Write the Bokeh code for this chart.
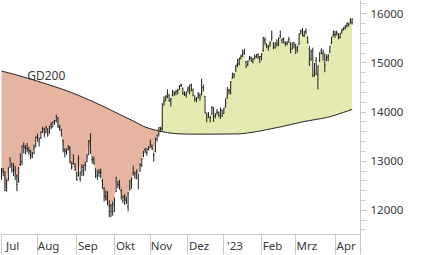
import numpy as np
from bokeh.plotting import figure
from bokeh.models import Range1d, FixedTicker, Label
from bokeh.embed import file_html
from bokeh.resources import INLINE

# ---------------- data (DAX, daily, Jul 2022 - Apr 2023) ----------------
month_labels = ["Jul", "Aug", "Sep", "Okt", "Nov", "Dez", "'23", "Feb", "Mrz", "Apr"]
month_start = [0, 21, 44, 66, 87, 109, 130, 152, 172, 195]   # bar index of first trading day

open_ = [
    # Jul
    12690,12800,12780,12460,12640,12900,12950,12800,12820,12700,12580,12930,12990,13330,13270,13250,13230,13200,13110,13250,13320,
    # Aug
    13500,13400,13480,13600,13640,13600,13650,13590,13740,13700,13790,13830,13880,13680,13640,13420,13220,13190,13250,13270,12880,12940,12900,
    # Sep
    12760,12700,12650,12800,12800,12940,12990,13140,13420,13030,13040,12840,12700,12770,12780,12600,12440,12270,12280,12090,12090,11990,
    # Okt
    12130,12380,12530,12560,12410,12200,12260,12200,12070,12500,12450,12760,12740,12700,12660,12820,12910,13100,13240,13170,13240,
    # Nov
    13280,13300,13130,13200,13450,13560,13640,13660,14200,14230,14330,14330,14230,14340,14400,14390,14430,14460,14550,14480,14390,14350,
    # Dez
    14450,14440,14560,14440,14290,14260,14300,14340,14350,14500,14310,13940,13940,13870,13960,14060,13930,14000,13980,13880,14030,
    # Jan
    13970,14120,14300,14450,14410,14690,14740,14840,14970,14980,15100,15150,15230,15020,14960,15090,15100,15040,15100,15120,15170,15080,
    # Feb
    15130,15250,15450,15350,15330,15380,15470,15400,15320,15420,15370,15560,15460,15480,15410,15390,15430,15400,15280,15410,
    # Mrz
    15300,15260,15380,15600,15650,15550,15660,15520,15280,15080,15250,14770,15050,14750,15050,15250,15180,15170,15070,15110,15210,15400,15550,
    # Apr
    15580,15620,15570,15510,15610,15680,15720,15760,15780,15850,15820,
]
high = [
    12860,12860,12790,12640,12880,13080,12970,12960,12900,12730,12880,13160,13320,13380,13330,13370,13290,13230,13190,13340,13500,
    13560,13480,13610,13700,13680,13720,13670,13720,13790,13810,13840,13950,13900,13740,13660,13440,13260,13260,13330,13310,12990,13140,12960,
    12780,13120,12790,12940,12920,12990,13150,13430,13570,13100,13090,12850,12810,12840,12850,12640,12470,12400,12390,12200,12130,12180,
    12260,12680,12600,12620,12430,12300,12330,12280,12370,12620,12670,12910,12790,12830,12740,12960,13060,13210,13270,13260,13310,
    13440,13340,13170,13480,13540,13690,13700,14180,14320,14340,14460,14370,14290,14450,14420,14450,14470,14550,14580,14500,14420,14420,
    14520,14560,14580,14480,14340,14300,14410,14380,14680,14560,14330,13990,14000,13920,14120,14100,13980,14060,14010,14090,14050,
    14090,14280,14510,14470,14630,14800,14790,14960,15080,15110,15170,15270,15290,15040,15050,15140,15130,15100,15170,15180,15200,15140,
    15200,15530,15520,15400,15370,15440,15660,15420,15420,15480,15520,15660,15500,15520,15440,15450,15530,15420,15420,15430,
    15390,15350,15600,15680,15710,15650,15700,15540,15350,15270,15310,15000,15120,14950,15220,15300,15270,15190,15170,15180,15350,15530,15660,
    15650,15660,15600,15610,15700,15730,15770,15820,15820,15910,15900,
]
low = [
    12620,12700,12390,12380,12600,12860,12770,12700,12620,12390,12560,12900,12920,13160,13140,13180,13130,13040,13060,13140,13280,
    13400,13300,13450,13570,13490,13560,13500,13550,13650,13690,13740,13790,13680,13620,13500,13180,13080,13130,13220,12960,12830,12930,12800,
    12600,12690,12580,12700,12700,12800,12980,13120,13150,12950,12930,12660,12620,12680,12650,12440,12180,12200,12100,11860,11860,11890,
    11960,12370,12450,12420,12220,12150,12110,12130,11980,12400,12440,12700,12640,12630,12430,12780,12880,13080,13160,13110,13220,
    13270,13230,12990,13180,13400,13500,13590,13620,14130,14220,14280,14210,14110,14320,14330,14340,14360,14450,14510,14350,14330,14290,
    14400,14360,14420,14320,14210,14200,14280,14230,14340,14420,13970,13790,13880,13790,13950,13800,13870,13950,13900,13860,13900,
    13960,14090,14270,14360,14360,14680,14690,14820,14910,14950,15070,15120,15170,14900,14940,15050,15020,14990,15070,15100,15080,15000,
    15050,15230,15370,15300,15250,15330,15450,15280,15290,15330,15340,15510,15400,15400,15340,15360,15410,15200,15270,15300,
    15180,15210,15370,15590,15540,15530,15580,15390,14940,15040,14710,14720,14760,14460,15020,15180,15050,14810,15040,15030,15200,15380,15540,
    15510,15560,15480,15500,15600,15660,15680,15720,15740,15800,15780,
]
close = [
    12813,12773,12401,12595,12843,13015,12832,12905,12756,12520,12864,12959,13308,13282,13246,13254,13210,13097,13166,13282,13484,
    13479,13449,13587,13662,13574,13687,13535,13700,13694,13795,13816,13910,13697,13697,13544,13230,13194,13220,13271,12971,12893,12961,12835,
    12630,13050,12761,12871,12916,12904,13088,13402,13189,13028,12956,12741,12803,12767,12767,12531,12284,12228,12140,12184,11976,12114,
    12209,12670,12517,12471,12273,12272,12220,12172,12355,12438,12649,12765,12741,12767,12731,12931,13052,13196,13211,13243,13253,
    13338,13256,13130,13460,13533,13688,13666,14146,14224,14313,14379,14234,14266,14431,14380,14422,14428,14539,14541,14383,14355,14397,
    14490,14529,14447,14343,14261,14264,14371,14306,14498,14460,13986,13894,13942,13884,14098,13914,13941,13995,13926,14071,13924,
    14069,14181,14490,14436,14610,14792,14775,14947,15058,15087,15134,15187,15181,14920,15033,15103,15094,15081,15132,15150,15126,15128,
    15181,15509,15476,15345,15320,15412,15523,15308,15398,15381,15507,15533,15482,15398,15403,15400,15475,15210,15381,15365,
    15305,15327,15578,15654,15559,15631,15633,15428,14960,15233,14735,14967,14768,14933,15195,15216,15210,14957,15128,15142,15329,15522,15629,
    15581,15603,15520,15598,15655,15703,15729,15808,15790,15883,15896,
]
gd200 = [
    14835,14826,14817,14808,14799,14790,14781,14772,14762,14752,14742,14732,14722,14712,14702,14692,14682,14672,14661,14650,
    14639,14628,14617,14606,14595,14584,14573,14562,14551,14540,14529,14518,14507,14495,14483,14471,14459,14447,14434,14421,
    14408,14395,14381,14367,14353,14339,14325,14310,14295,14280,14265,14250,14235,14220,14204,14188,14172,14156,14140,14124,
    14107,14090,14073,14056,14039,14022,14005,13988,13971,13954,13937,13920,13903,13886,13869,13852,13835,13818,13801,13783,
    13765,13747,13729,13711,13696,13683,13671,13660,13650,13641,13632,13624,13616,13608,13600,13593,13587,13582,13577,13572,
    13568,13564,13561,13558,13556,13555,13554,13553,13552,13551,13551,13550,13550,13550,13550,13550,13550,13550,13550,13550,
    13550,13550,13550,13551,13551,13551,13551,13552,13552,13552,13552,13553,13553,13553,13554,13554,13554,13555,13556,13557,
    13559,13562,13566,13570,13575,13580,13585,13590,13596,13602,13608,13614,13620,13627,13634,13641,13648,13655,13662,13669,
    13676,13683,13690,13697,13705,13713,13721,13729,13737,13745,13753,13761,13769,13777,13785,13793,13800,13807,13814,13820,
    13826,13832,13838,13844,13850,13856,13862,13868,13875,13882,13889,13896,13903,13914,13925,13936,13947,13958,13970,13982,
    13994,14006,14018,14030,14042,14054,
]
y_ticks = [12000, 13000, 14000, 15000, 16000]

# ---------------- figure ----------------
n = min(len(open_), len(high), len(low), len(close), len(gd200))
x = np.arange(n)
o = np.array(open_[:n], float)
h = np.array(high[:n], float)
l = np.array(low[:n], float)
c = np.array(close[:n], float)
g = np.array(gd200[:n], float)

FONT = "Noto Sans"
TXT = "#3a3a3a"
AX = "#c8c8c8"

p = figure(width=426, height=255, output_backend="svg", toolbar_location=None,
           x_range=Range1d(-0.6, 209.9), y_range=Range1d(11508, 16270),
           y_axis_location="right",
           min_border_left=0, min_border_top=0, min_border_right=66, min_border_bottom=20)
p.background_fill_color = "white"
p.border_fill_color = "white"
p.outline_line_color = None
p.grid.visible = False

# fills between price and GD200
p.varea(x=x, y1=np.minimum(c, g), y2=g, fill_color="#e6b5a2", fill_alpha=1)
p.varea(x=x, y1=g, y2=np.maximum(c, g), fill_color="#e5eab3", fill_alpha=1)

# GD200 line
p.line(x, g, line_color="#1a1a1a", line_width=1)

# OHLC bars
bar_col = "#202020"
p.segment(x0=x, y0=l, x1=x, y1=h, line_color=bar_col, line_width=1)
p.segment(x0=x - 0.45, y0=o, x1=x, y1=o, line_color=bar_col, line_width=1)
p.segment(x0=x, y0=c, x1=x + 0.45, y1=c, line_color=bar_col, line_width=1)

p.add_layout(Label(x=15, y=g[15], text="GD200", y_offset=3, text_baseline="alphabetic",
                   text_font=FONT, text_font_size="12px", text_color=TXT))

# x axis: separators at month starts, labels just right of them
xa = p.xaxis[0]
lab_pos = [m + 6.5 for m in month_start]
xa.ticker = FixedTicker(ticks=lab_pos, minor_ticks=month_start + [209.8])
xa.major_label_overrides = {pos: lab for pos, lab in zip(lab_pos, month_labels)}
xa.major_tick_line_color = None
xa.major_tick_out = 0
xa.major_tick_in = 0
xa.minor_tick_out = 20
xa.minor_tick_in = 0
xa.minor_tick_line_color = AX
xa.axis_line_color = AX
xa.major_label_standoff = -17
xa.major_label_text_font = FONT
xa.major_label_text_font_size = "11.5px"
xa.major_label_text_color = TXT

# y axis on the right
ya = p.yaxis[0]
ya.ticker = FixedTicker(ticks=y_ticks, minor_ticks=list(range(11600, 16400, 200)))
ya.major_tick_out = 5
ya.major_tick_in = 0
ya.minor_tick_out = 5
ya.minor_tick_in = 0
ya.major_tick_line_color = AX
ya.minor_tick_line_color = AX
ya.axis_line_color = AX
ya.major_label_standoff = 5
ya.major_label_text_font = FONT
ya.major_label_text_font_size = "11.5px"
ya.major_label_text_color = TXT

open("out.html", "w").write(file_html(p, INLINE))
